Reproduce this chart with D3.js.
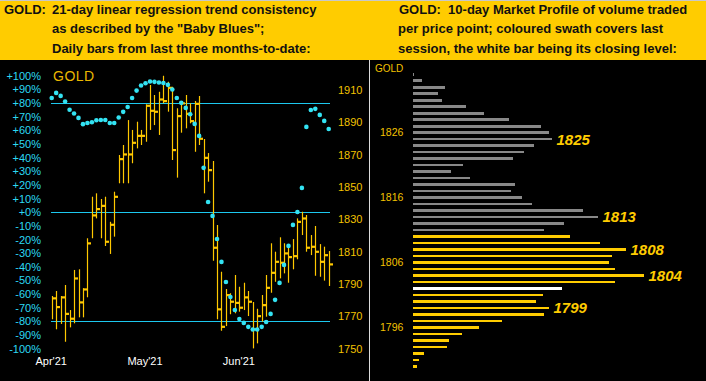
<!DOCTYPE html>
<html><head><meta charset="utf-8">
<script src="https://cdn.jsdelivr.net/npm/d3@7"></script>
<style>
body{margin:0;background:#000}
svg{display:block}
text{font-family:"Liberation Sans",Arial,sans-serif}
</style></head>
<body><svg id="c" width="706" height="381"></svg>
<script>
// ---------- DATA ----------
const headerLeftTag = "GOLD:";
const headerLeft = ["21-day linear regression trend consistency", "as described by the \"Baby Blues\";", "Daily bars from last three months-to-date:"];
const headerRight = ["GOLD:  10-day Market Profile of volume traded", "per price point; coloured swath covers last", "session, the white bar being its closing level:"];

const monthLabels = ["Apr'21", "May'21", "Jun'21"];
const monthStartIdx = [0, 21, 42];
const pctTicks = [100, 90, 80, 70, 60, 50, 40, 30, 20, 10, 0, -10, -20, -30, -40, -50, -60, -70, -80, -90, -100];
const priceTicks = [1910, 1890, 1870, 1850, 1830, 1810, 1790, 1770, 1750];
const refLevels = [80, 0, -80];

const high = [1782.6,1785.7,1782.6,1789.4,1773.9,1798.7,1799.1,1787.4,1818.3,1844.0,1846.1,1842.6,1844.0,1828.5,1847.1,1869.8,1876.0,1891.4,1885.3,1890.4,1885.3,1901.1,1913.1,1906.9,1908.9,1918.8,1915.1,1912.0,1898.7,1903.2,1906.9,1901.8,1903.2,1906.3,1879.7,1871.0,1866.1,1826.5,1797.6,1786.9,1784.3,1795.6,1788.3,1790.8,1785.7,1778.9,1774.7,1783.2,1795.6,1815.2,1810.0,1818.9,1815.2,1812.7,1817.8,1830.6,1834.7,1832.7,1820.3,1825.9,1814.7,1813.1,1810.4];
const low = [1768.2,1762.0,1765.3,1754.3,1763.2,1765.7,1769.4,1769.4,1781.8,1818.3,1830.6,1818.3,1813.5,1808.6,1819.3,1852.3,1852.3,1852.3,1864.7,1873.9,1876.0,1878.0,1885.3,1888.3,1882.2,1901.8,1896.6,1866.7,1855.8,1883.6,1886.3,1889.4,1871.8,1876.0,1846.1,1853.3,1804.4,1768.2,1761.1,1764.0,1771.3,1771.9,1772.9,1773.9,1770.2,1750.2,1753.3,1766.7,1769.8,1784.6,1791.4,1793.5,1796.6,1790.8,1799.1,1805.3,1820.3,1810.0,1807.9,1795.1,1794.5,1792.1,1788.8];
const close = [1781.2,1775.8,1781.8,1771.6,1768.6,1793.5,1778.7,1786.7,1815.2,1832.5,1836.4,1838.4,1816.2,1826.7,1844.0,1867.3,1870.2,1870.2,1877.4,1881.7,1881.7,1900.3,1897.2,1896.6,1904.2,1903.2,1911.4,1872.9,1893.9,1901.8,1895.3,1890.8,1901.5,1879.9,1868.1,1860.5,1812.5,1774.4,1763.6,1783.2,1779.1,1778.4,1775.4,1781.8,1779.1,1762.0,1770.2,1777.0,1787.7,1797.0,1803.8,1803.2,1809.0,1806.7,1807.3,1828.5,1830.6,1812.5,1813.1,1810.0,1803.8,1807.9,1802.2];
const consistency = [83.7,87.4,85.2,81.1,75.0,72.3,69.1,64.5,65.4,65.9,67.4,67.6,67.6,65.4,65.4,69.4,73.5,77.1,83.7,89.1,92.8,94.5,95.7,95.5,95.0,94.7,93.3,89.9,83.7,80.1,76.4,71.8,64.7,55.9,32.5,7.5,-2.7,-19.6,-36.4,-51.1,-62.1,-71.6,-78.2,-81.1,-84.0,-85.9,-85.9,-84.0,-80.4,-74.5,-64.2,-51.8,-38.6,-24.7,-9.3,0.2,17.8,62.5,74.9,75.7,71.3,66.9,61.0];

const profilePrices = [1835,1834,1833,1832,1831,1830,1829,1828,1827,1826,1825,1824,1823,1822,1821,1820,1819,1818,1817,1816,1815,1814,1813,1812,1811,1810,1809,1808,1807,1806,1805,1804,1803,1802,1801,1800,1799,1798,1797,1796,1795,1794,1793,1792,1791,1790];
const profileVolumes = [1,9,32,25,29,53,71,96,128,136,139,121,111,100,50,38,57,102,98,109,119,170,185,151,131,157,187,213,199,196,202,231,202,149,130,123,136,131,89,66,49,36,34,11,6,4];
const profileTicks = [1826, 1816, 1806, 1796];
const peakLabels = [1825, 1813, 1808, 1804, 1799];
const sessionLow = 1790, sessionHigh = 1810, closeLevel = 1802;

// ---------- DRAW ----------
const svg = d3.select("#c");
const YELLOW = "#ffcc00", CYAN_LINE = "#1cc8ee", CYAN_DOT = "#33e3f3", CYAN_TXT = "#2cdaf4", GOLD_TXT = "#f2c200", BAR = "#ffc800";

svg.append("rect").attr("width", 706).attr("height", 381).attr("fill", "#000");
svg.append("rect").attr("x", 0).attr("y", 0).attr("width", 706).attr("height", 1).attr("fill", "#c8c8c8");
svg.append("rect").attr("x", 0).attr("y", 1).attr("width", 706).attr("height", 59).attr("fill", YELLOW);
svg.append("rect").attr("x", 369).attr("y", 60).attr("width", 1).attr("height", 321).attr("fill", "#dcdcdc");

const baselines = [13.5, 33, 52.5];
const hdr = svg.append("g").attr("font-size", 13).attr("font-weight", "bold").attr("fill", "#111");
hdr.append("text").attr("x", 4).attr("y", baselines[0]).text(headerLeftTag);
headerLeft.forEach((t, i) => hdr.append("text").attr("x", 52).attr("y", baselines[i]).text(t));
headerRight.forEach((t, i) => hdr.append("text").attr("x", i === 0 ? 399 : 398).attr("y", baselines[i]).style("white-space", "pre").text(t));

// Left chart
const idx = d3.range(high.length);
const x = d3.scaleLinear().domain([0, high.length - 1]).range([51.7, 328.7]);
const yPct = d3.scaleLinear().domain([-100, 100]).range([348.7, 75.7]);
const yPx = d3.scaleLinear().domain([1750, 1910]).range([348.7, 90]);

const left = svg.append("g");
left.selectAll("line.ref").data(refLevels).join("line")
  .attr("x1", 51).attr("x2", 330)
  .attr("y1", d => Math.round(yPct(d)) + 0.5).attr("y2", d => Math.round(yPct(d)) + 0.5)
  .attr("stroke", CYAN_LINE).attr("stroke-width", 1);

const pAxis = d3.axisLeft(yPct).tickValues(pctTicks).tickSize(0).tickPadding(0)
  .tickFormat(d => (d >= 0 ? "+" : "") + d + "%");
const pa = left.append("g").attr("transform", "translate(41,0)").call(pAxis);
pa.select(".domain").remove();
pa.selectAll("text").attr("fill", CYAN_TXT).attr("font-size", 11).attr("font-family", "\"Liberation Sans\",Arial,sans-serif");

const rAxis = d3.axisRight(yPx).tickValues(priceTicks).tickSize(0).tickPadding(0).tickFormat(d3.format("d"));
const ra = left.append("g").attr("transform", "translate(338,0)").call(rAxis);
ra.select(".domain").remove();
ra.selectAll("text").attr("fill", GOLD_TXT).attr("font-size", 11).attr("font-family", "\"Liberation Sans\",Arial,sans-serif");

const xAxis = d3.axisBottom(x).tickValues(monthStartIdx).tickSize(0).tickPadding(0)
  .tickFormat((d, i) => monthLabels[i]);
const xa = left.append("g").attr("transform", "translate(-1,357)").call(xAxis);
xa.select(".domain").remove();
xa.selectAll("text").attr("fill", "#fff").attr("font-size", 11).attr("font-family", "\"Liberation Sans\",Arial,sans-serif");

left.append("text").attr("x", 53).attr("y", 81).attr("font-size", 14).attr("fill", "#eab800").attr("letter-spacing", 0.5).text("GOLD");

left.selectAll("line.bar").data(idx).join("line")
  .attr("x1", i => Math.round(x(i)) + 0.5).attr("x2", i => Math.round(x(i)) + 0.5)
  .attr("y1", i => yPx(high[i])).attr("y2", i => yPx(low[i]))
  .attr("stroke", BAR).attr("stroke-width", 1.2);
left.selectAll("rect.tick").data(idx).join("rect")
  .attr("x", i => Math.round(x(i))).attr("width", 4)
  .attr("y", i => yPx(close[i]) - 1).attr("height", 2.2)
  .attr("fill", BAR);

left.selectAll("circle").data(idx).join("circle")
  .attr("cx", i => x(i)).attr("cy", i => yPct(consistency[i])).attr("r", 2.3)
  .attr("fill", CYAN_DOT);

// Right chart: market profile
const yP = d3.scaleLinear().domain([1790, 1835]).range([366.3, 74.3]);
const xV = d3.scaleLinear().domain([0, d3.max(profileVolumes)]).range([413, 644]);
const right = svg.append("g");
right.selectAll("rect.pb").data(profilePrices).join("rect")
  .attr("x", 413)
  .attr("y", p => Math.round(yP(p) - 1.3))
  .attr("height", p => Math.round(yP(p) + 1.3) - Math.round(yP(p) - 1.3))
  .attr("width", (p, i) => Math.max(1, xV(profileVolumes[i]) - 413))
  .attr("fill", p => p === closeLevel ? "#ffffff" : (p >= sessionLow && p <= sessionHigh ? YELLOW : "#888888"));

right.append("text").attr("x", 375).attr("y", 68).attr("dy", "0.35em").attr("font-size", 10).attr("fill", GOLD_TXT).text("GOLD");
right.selectAll("text.pt").data(profileTicks).join("text")
  .attr("x", 380).attr("y", d => yP(d)).attr("dy", "0.35em")
  .attr("font-size", 10.5).attr("fill", GOLD_TXT).text(d => d);

right.selectAll("text.pk").data(peakLabels).join("text")
  .attr("x", p => xV(profileVolumes[profilePrices.indexOf(p)]) + 4.5)
  .attr("y", p => yP(p)).attr("dy", "0.36em")
  .attr("font-size", 15).attr("font-weight", "bold").attr("font-style", "italic")
  .attr("fill", YELLOW).text(p => p);
</script></body></html>
